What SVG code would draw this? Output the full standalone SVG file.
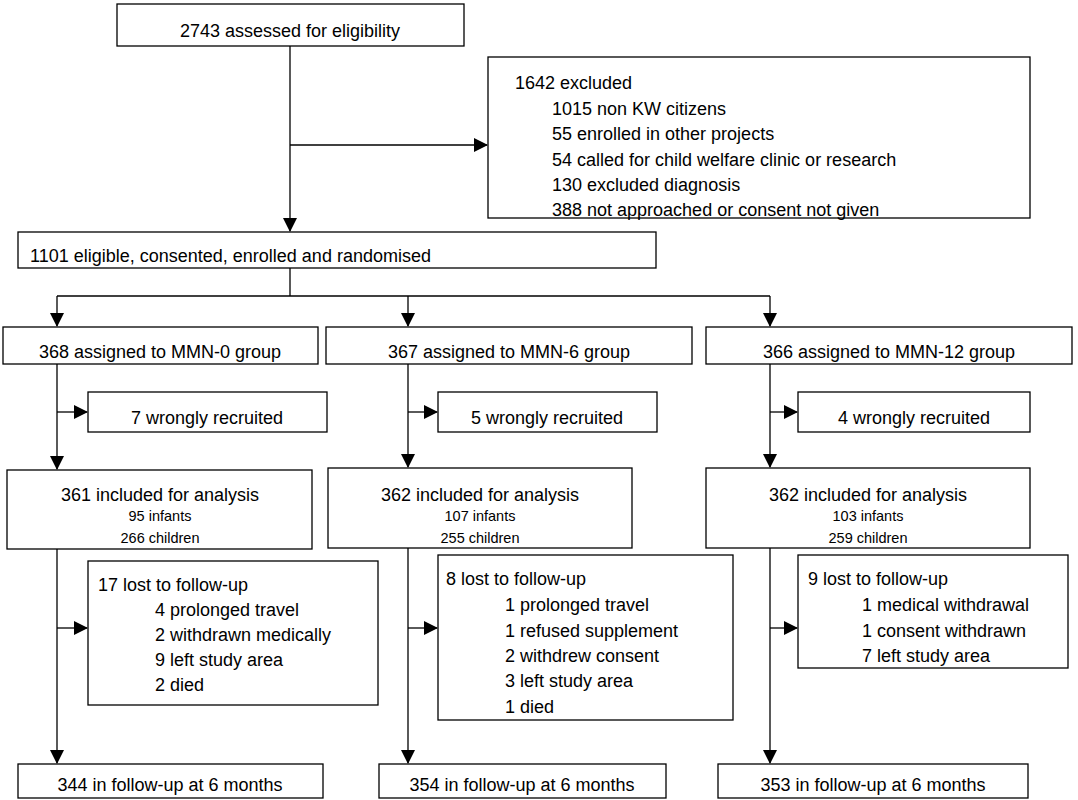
<svg xmlns="http://www.w3.org/2000/svg" width="1078" height="800" viewBox="0 0 1078 800">
<style>
rect{fill:#fff;stroke:#000;stroke-width:1.3}
.c line,.c polyline{stroke:#000;stroke-width:1.3;fill:none}
text{font-family:"Liberation Sans",Arial,sans-serif;font-size:18px;fill:#000}
.s{font-size:14.5px}
.m{text-anchor:middle}
</style>
<defs>
<marker id="b" markerWidth="14" markerHeight="14" refX="13" refY="7" orient="auto" markerUnits="userSpaceOnUse" viewBox="0 0 14 14"><path d="M0,0L14,7L0,14z" fill="#000"/></marker></defs>
<g class="c">
<line x1="290" y1="46" x2="290" y2="231" marker-end="url(#b)"/>
<line x1="290" y1="145" x2="487" y2="145" marker-end="url(#b)"/>
<polyline points="290,268 290,296"/>
<line x1="57" y1="296" x2="770" y2="296"/>
<line x1="57" y1="296" x2="57" y2="326" marker-end="url(#b)"/>
<line x1="408" y1="296" x2="408" y2="326" marker-end="url(#b)"/>
<line x1="770" y1="296" x2="770" y2="326" marker-end="url(#b)"/>
<line x1="57" y1="364" x2="57" y2="469" marker-end="url(#b)"/>
<line x1="408" y1="364" x2="408" y2="467" marker-end="url(#b)"/>
<line x1="770" y1="364" x2="770" y2="467" marker-end="url(#b)"/>
<line x1="57" y1="412" x2="87" y2="412" marker-end="url(#b)"/>
<line x1="408" y1="412" x2="437" y2="412" marker-end="url(#b)"/>
<line x1="770" y1="412" x2="797" y2="412" marker-end="url(#b)"/>
<line x1="57" y1="549" x2="57" y2="763" marker-end="url(#b)"/>
<line x1="408" y1="548" x2="408" y2="763" marker-end="url(#b)"/>
<line x1="770" y1="548" x2="770" y2="763" marker-end="url(#b)"/>
<line x1="57" y1="628" x2="87" y2="628" marker-end="url(#b)"/>
<line x1="408" y1="628" x2="437" y2="628" marker-end="url(#b)"/>
<line x1="770" y1="628" x2="797" y2="628" marker-end="url(#b)"/>
</g>
<g id="n1"><rect x="117" y="4" width="347" height="42"/><text x="290" y="37" class="m">2743 assessed for eligibility</text></g>
<g id="n2"><rect x="488" y="57" width="542" height="161"/><text x="515" y="89">1642 excluded</text>
<text x="552" y="115">1015 non KW citizens</text><text x="552" y="140">55 enrolled in other projects</text><text x="552" y="166">54 called for child welfare clinic or research</text><text x="552" y="191">130 excluded diagnosis</text><text x="552" y="216">388 not approached or consent not given</text></g>
<g id="n3"><rect x="18" y="232" width="638" height="36"/><text x="30" y="262">1101 eligible, consented, enrolled and randomised</text></g>
<g id="g1"><rect x="3" y="327" width="315" height="37"/><text x="160" y="358" class="m">368 assigned to MMN-0 group</text></g>
<g id="g2"><rect x="326" y="327" width="366" height="37"/><text x="509" y="358" class="m">367 assigned to MMN-6 group</text></g>
<g id="g3"><rect x="706" y="327" width="366" height="37"/><text x="889" y="358" class="m">366 assigned to MMN-12 group</text></g>
<g id="w1"><rect x="88" y="392" width="239" height="40"/><text x="207" y="424" class="m">7 wrongly recruited</text></g>
<g id="w2"><rect x="438" y="392" width="219" height="40"/><text x="547" y="424" class="m">5 wrongly recruited</text></g>
<g id="w3"><rect x="798" y="392" width="232" height="40"/><text x="914" y="424" class="m">4 wrongly recruited</text></g>
<g id="i1"><rect x="7" y="470" width="305" height="79"/><text x="160" y="501" class="m">361 included for analysis</text><text x="160" y="521" class="m s">95 infants</text><text x="160" y="543" class="m s">266 children</text></g>
<g id="i2"><rect x="328" y="468" width="304" height="80"/><text x="480" y="501" class="m">362 included for analysis</text><text x="480" y="521" class="m s">107 infants</text><text x="480" y="543" class="m s">255 children</text></g>
<g id="i3"><rect x="706" y="468" width="324" height="80"/><text x="868" y="501" class="m">362 included for analysis</text><text x="868" y="521" class="m s">103 infants</text><text x="868" y="543" class="m s">259 children</text></g>
<g id="l1"><rect x="88" y="561" width="290" height="144"/><text x="98" y="591">17 lost to follow-up</text><text x="155" y="616">4 prolonged travel</text><text x="155" y="641">2 withdrawn medically</text><text x="155" y="666">9 left study area</text><text x="155" y="691">2 died</text></g>
<g id="l2"><rect x="438" y="555" width="295" height="165"/><text x="446" y="585">8 lost to follow-up</text><text x="505" y="611">1 prolonged travel</text><text x="505" y="637">1 refused supplement</text><text x="505" y="662">2 withdrew consent</text><text x="505" y="687">3 left study area</text><text x="505" y="713">1 died</text></g>
<g id="l3"><rect x="798" y="555" width="270" height="113"/><text x="808" y="585">9 lost to follow-up</text><text x="862" y="611">1 medical withdrawal</text><text x="862" y="637">1 consent withdrawn</text><text x="862" y="662">7 left study area</text></g>
<g id="f1"><rect x="18" y="764" width="305" height="34"/><text x="170" y="791" class="m">344 in follow-up at 6 months</text></g>
<g id="f2"><rect x="379" y="764" width="287" height="34"/><text x="522" y="791" class="m">354 in follow-up at 6 months</text></g>
<g id="f3"><rect x="718" y="764" width="310" height="34"/><text x="873" y="791" class="m">353 in follow-up at 6 months</text></g>
</svg>
